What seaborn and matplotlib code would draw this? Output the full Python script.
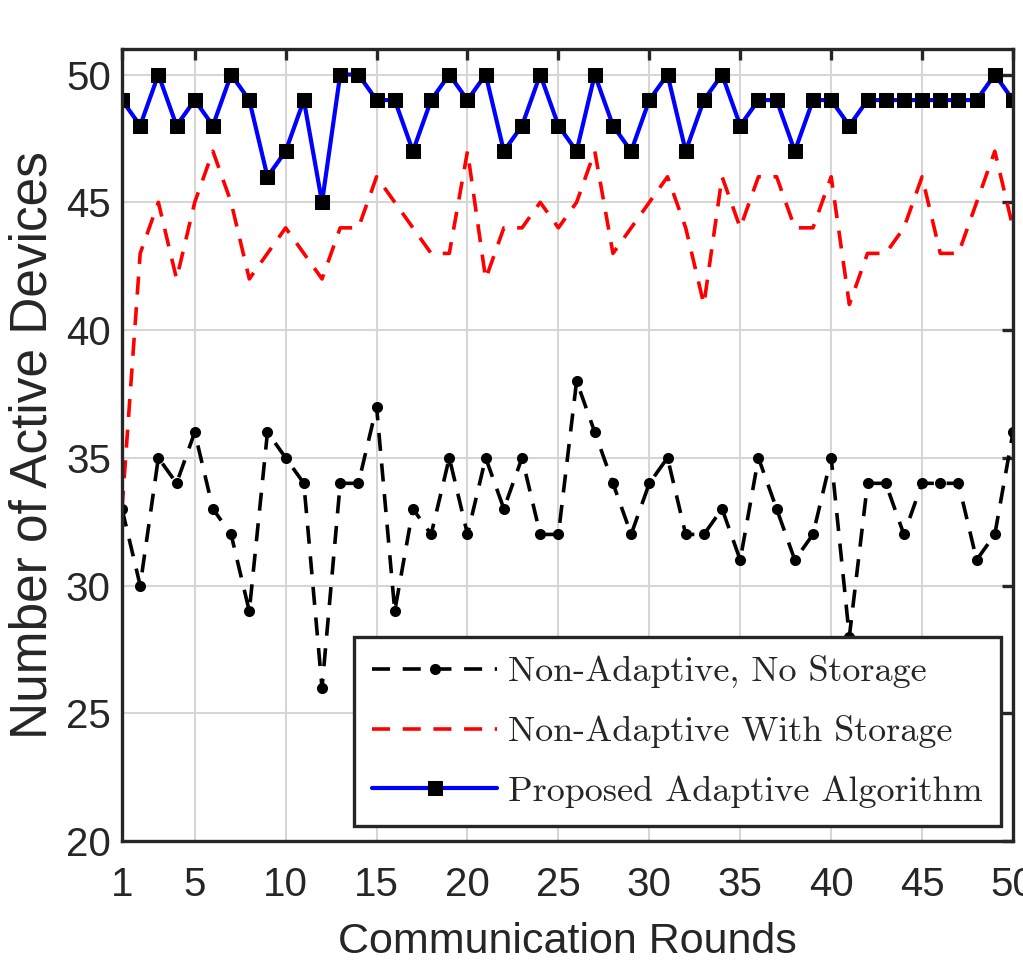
import numpy as np
import pandas as pd
import matplotlib
matplotlib.use("Agg")
import matplotlib.pyplot as plt
import seaborn as sns

# rounds 1..50
rounds = list(range(1, 51))

# Non-Adaptive, No Storage
no_storage = [33, 30, 35, 34, 36, 33, 32, 29, 36, 35,
              34, 26, 34, 34, 37, 29, 33, 32, 35, 32,
              35, 33, 35, 32, 32, 38, 36, 34, 32, 34,
              35, 32, 32, 33, 31, 35, 33, 31, 32, 35,
              28, 34, 34, 32, 34, 34, 34, 31, 32, 36]

# Non-Adaptive With Storage
with_storage = [33, 43, 45, 42, 45, 47, 45, 42, 43, 44,
                43, 42, 44, 44, 46, 45, 44, 43, 43, 47,
                42, 44, 44, 45, 44, 45, 47, 43, 44, 45,
                46, 44, 41, 46, 44, 46, 46, 44, 44, 46,
                41, 43, 43, 44, 46, 43, 43, 45, 47, 44]

# Proposed Adaptive Algorithm
adaptive = [49, 48, 50, 48, 49, 48, 50, 49, 46, 47,
            49, 45, 50, 50, 49, 49, 47, 49, 50, 49,
            50, 47, 48, 50, 48, 47, 50, 48, 47, 49,
            50, 47, 49, 50, 48, 49, 49, 47, 49, 49,
            48, 49, 49, 49, 49, 49, 49, 49, 50, 49]

labels = ["Non-Adaptive, No Storage", "Non-Adaptive With Storage",
          "Proposed Adaptive Algorithm"]
xticks = [1, 5, 10, 15, 20, 25, 30, 35, 40, 45, 50]
yticks = [20, 25, 30, 35, 40, 45, 50]

sns.set_style("white")
plt.rcParams['font.family'] = ['Liberation Sans', 'DejaVu Sans']

fig = plt.figure(figsize=(10.23, 9.73), dpi=100)
ax = fig.add_axes([122/1023, 1 - 841/973, 891/1023, 792/973])

sns.lineplot(x=rounds, y=no_storage, ax=ax, color='black', linestyle=(0, (5, 3.5)),
             linewidth=2.6, marker='o', markersize=8, markeredgewidth=0,
             label=labels[0])
sns.lineplot(x=rounds, y=with_storage, ax=ax, color='#ff0000', linestyle=(0, (5, 3.5)),
             linewidth=2.6, label=labels[1])
sns.lineplot(x=rounds, y=adaptive, ax=ax, color='#0000ff', linestyle='-',
             linewidth=3, marker='s', markersize=9.5, markerfacecolor='black',
             markeredgecolor='black', label=labels[2])

ax.set_xlim(1, 50)
ax.set_ylim(20, 51)
ax.set_xticks(xticks)
ax.set_yticks(yticks)
ax.grid(True, color='#d6d6d6', linewidth=1.5)
ax.set_axisbelow(True)

for s in ax.spines.values():
    s.set_color('#262626')
    s.set_linewidth(2.4)
ax.tick_params(direction='in', length=8, width=2.4, color='#262626',
               labelsize=29, labelcolor='#262626', top=True, right=True)
ax.tick_params(axis='x', pad=18)
ax.tick_params(axis='y', pad=8)

ax.set_xlabel("Communication Rounds", fontsize=31, color='#262626', labelpad=13)
ax.set_ylabel("Number of Active Devices", fontsize=37, color='#262626', labelpad=6)

leg = ax.legend(loc='lower right', bbox_to_anchor=(0.986, 0.019),
                prop={'family': 'cmr10', 'size': 26},
                frameon=True, fancybox=False, framealpha=1, edgecolor='#262626',
                handlelength=3.45, handletextpad=0.3, labelspacing=0.75,
                borderpad=0.5, borderaxespad=0)
leg.get_frame().set_linewidth(2.4)

fig.savefig("out.png", dpi=100)
